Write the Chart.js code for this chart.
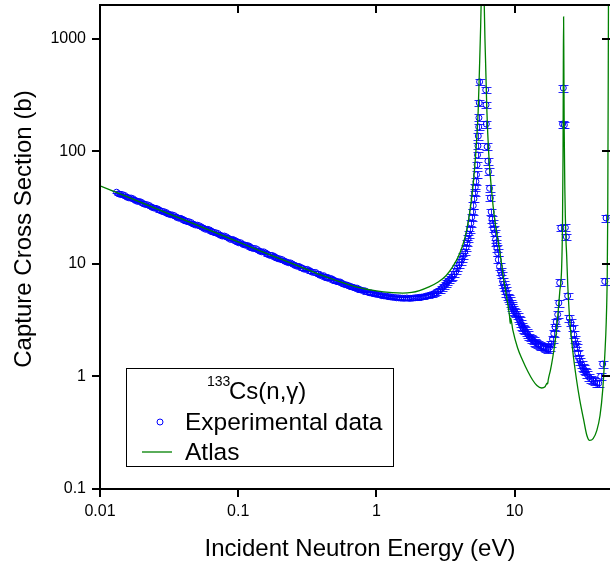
<!DOCTYPE html>
<html>
<head>
<meta charset="utf-8">
<script src="https://cdn.jsdelivr.net/npm/chart.js@4.4.1/dist/chart.umd.min.js"></script>
<style>
  html, body { margin: 0; padding: 0; background: #fff; }
  canvas { display: block; }
</style>
</head>
<body>
<canvas id="cs-chart" width="610" height="564"></canvas>
<script>
// tick labels
var xTickVals = [0.01, 0.1, 1, 10];
var xTickText = ['0.01', '0.1', '1', '10'];
var yTickVals = [0.1, 1, 10, 100, 1000];
var yTickText = ['0.1', '1', '10', '100', '1000'];

// Atlas evaluation (eV, barn)
var atlasE = [
  0.01, 0.015, 0.02, 0.03, 0.05, 0.07, 0.1, 0.15, 0.2, 0.3,
  0.4, 0.5, 0.7, 1.0, 1.3, 1.55, 1.8, 2.05, 2.4, 2.8,
  3.2, 3.56, 3.9, 4.2, 4.5, 4.72, 4.96, 5.13, 5.3, 5.45,
  5.57, 5.68, 5.78, 5.87, 5.95, 6.03, 6.1, 6.16, 6.3, 6.5,
  6.81, 7.2, 7.78, 8.3, 8.9, 9.2, 9.3, 9.36, 9.7, 10.5,
  11.4, 12.5, 13.5, 14.5, 15.7, 16.6, 17.2, 17.35, 17.5, 18.2,
  18.9, 19.8, 20.5, 21.2, 21.9, 22.2, 22.4, 22.52, 22.62, 22.72,
  22.85, 23.1, 23.5, 23.8, 24.2, 25.0, 26.3, 28.0, 29.6, 31.5,
  33.3, 34.9, 37.0, 39.3, 41.5, 43.4, 45.0, 46.0, 46.8, 47.2,
  47.6, 47.85
];
var atlasCs = [
  49.5, 40.4, 35.0, 28.6, 22.2, 18.8, 15.7, 12.8, 11.15, 9.15,
  7.95, 7.2, 6.3, 5.75, 5.55, 5.5, 5.58, 5.8, 6.25, 6.9,
  7.9, 9.4, 11.5, 14.5, 20, 28, 45, 70, 120, 230,
  550, 1300, 3500, 7000, 5000, 2000, 1000, 650, 230, 95,
  45, 24, 13.3, 7.6, 4.5, 3.4, 2.95, 3.3, 2.6, 1.8,
  1.4, 1.1, 0.93, 0.83, 0.79, 0.81, 0.87, 0.86, 0.93, 1.15,
  1.49, 2.2, 3.38, 5.6, 9.4, 22, 90, 600, 1570, 600,
  150, 45, 17, 12, 6.8, 3.3, 1.72, 0.95, 0.62, 0.42,
  0.3, 0.27, 0.28, 0.33, 0.45, 0.76, 1.6, 3.0, 8, 30,
  500, 5000
];

// experimental data (eV, barn, uncertainty in %)
var expE = [
  0.01318, 0.01413, 0.01514, 0.01622, 0.01738, 0.01862, 0.01995, 0.02138, 0.02291, 0.02455,
  0.02630, 0.02818, 0.03020, 0.03236, 0.03467, 0.03715, 0.03981, 0.04266, 0.04571, 0.04898,
  0.05248, 0.05623, 0.06026, 0.06457, 0.06918, 0.07413, 0.07943, 0.08511, 0.09120, 0.09772,
  0.1047, 0.1122, 0.1202, 0.1288, 0.1380, 0.1479, 0.1585, 0.1698, 0.1820, 0.1950,
  0.2089, 0.2239, 0.2399, 0.2570, 0.2754, 0.2951, 0.3162, 0.3388, 0.3631, 0.3890,
  0.4169, 0.4467, 0.4786, 0.5129, 0.5495, 0.5888, 0.6310, 0.6761, 0.7244, 0.7762,
  0.8318, 0.8913, 0.9550, 1.023, 1.096, 1.175, 1.259, 1.349, 1.445, 1.549,
  1.660, 1.778, 1.905, 2.042, 2.188, 2.344, 2.512, 2.692, 2.884, 3.090,
  3.24, 3.35, 3.45, 3.55, 3.65, 3.76, 3.86, 3.96, 4.06, 4.15,
  4.25, 4.35, 4.45, 4.53, 4.61, 4.68, 4.75, 4.82, 4.89, 4.96,
  5.02, 5.08, 5.13, 5.19, 5.25, 5.30, 5.35, 5.39, 5.43, 5.46,
  5.50, 5.52, 5.55, 5.58,
  6.18, 6.21, 6.24, 6.33, 6.41, 6.48, 6.59, 6.68, 6.77, 6.86,
  6.93, 7.05, 7.16, 7.28, 7.35, 7.45, 7.54, 7.62, 7.78, 7.92,
  8.05, 8.18, 8.32, 8.47, 8.60, 8.72, 8.90, 9.05, 9.20, 9.35,
  9.5, 9.65, 9.8, 9.95, 10.1, 10.3, 10.5, 10.7, 10.9, 11.1,
  11.3, 11.5, 11.7, 11.9, 12.2, 12.5, 12.8, 13.1, 13.4, 13.7,
  14.0, 14.4, 14.8, 15.2, 15.6, 16.0, 16.5, 17.0, 17.4, 17.9,
  18.4, 18.8, 19.2, 19.6, 20.0, 20.5, 20.9, 21.2, 21.6, 22.25,
  22.5, 22.9, 23.3, 23.7, 24.2, 24.9, 25.6, 26.3, 26.8, 27.2,
  27.7, 28.1, 28.6, 29.1, 29.8, 30.6, 31.1, 31.6, 32.2, 32.7,
  33.5, 34.4, 35.5, 36.7, 38.0, 39.3, 40.6, 42.0, 43.4, 44.9,
  45.9,
  0.01364, 0.01462, 0.01567, 0.01679, 0.01799, 0.01927, 0.02065, 0.02213, 0.02371, 0.02541,
  0.02722, 0.02917, 0.03126, 0.03350, 0.03589, 0.03845, 0.04121, 0.04416, 0.04731, 0.05070,
  0.05432, 0.05820, 0.06237, 0.06683, 0.07161, 0.07673, 0.08222, 0.08810, 0.09440, 0.1011,
  0.1084, 0.1161, 0.1244, 0.1333, 0.1428, 0.1531, 0.1641, 0.1758, 0.1884, 0.2018,
  0.2162, 0.2318, 0.2483, 0.2660, 0.2851, 0.3055, 0.3273, 0.3507, 0.3758, 0.4027,
  0.4315, 0.4624, 0.4954, 0.5309, 0.5688, 0.6095, 0.6531, 0.6998, 0.7498, 0.8035,
  0.8610, 0.9226, 0.9885, 1.059, 1.135, 1.216, 1.303, 1.396, 1.496, 1.603,
  1.718, 1.841, 1.972, 2.114, 2.265, 2.426, 2.600, 2.786, 2.985, 3.198
];
var expCs = [
  43.4, 41.3, 40.5, 38.6, 37.9, 36.0, 35.3, 33.7, 32.9, 31.4,
  30.7, 29.3, 28.6, 27.4, 26.8, 25.5, 24.9, 23.8, 23.3, 22.2,
  21.8, 20.7, 20.3, 19.4, 18.9, 18.0, 17.7, 16.9, 16.5, 15.7,
  15.4, 14.7, 14.4, 13.7, 13.4, 12.8, 12.5, 11.9, 11.7, 11.1,
  10.9, 10.4, 10.2, 9.7, 9.5, 9.05, 8.95, 8.5, 8.4, 7.95,
  7.85, 7.45, 7.35, 7.0, 6.9, 6.55, 6.4, 6.2, 6.1, 5.85,
  5.75, 5.55, 5.45, 5.35, 5.22, 5.18, 5.1, 5.04, 5.0, 4.96,
  4.98, 4.95, 5.0, 5.05, 5.1, 5.22, 5.35, 5.55, 5.85, 6.35,
  6.9, 7.15, 7.4, 7.7, 8.1, 8.6, 9.2, 9.8, 10.4, 11.0,
  11.8, 12.8, 14.0, 15.4, 16.8, 18.4, 20.4, 23, 26, 29,
  33, 38, 43, 48, 54, 62, 76, 93, 112, 137,
  165, 199, 270, 415,
  352, 259, 175, 110, 82, 66, 47, 38.6, 29, 25,
  23, 20.5, 18.9, 16.5, 15.4, 13.8, 12.6, 10.9, 9.5, 8.6,
  8.0, 7.0, 6.6, 6.2, 5.8, 5.5, 5.1, 4.9, 4.75, 4.5,
  4.3, 4.1, 3.95, 3.8, 3.7, 3.6, 3.45, 3.25, 3.15, 2.95,
  2.8, 2.7, 2.62, 2.55, 2.45, 2.35, 2.25, 2.2, 2.12, 2.08,
  2.02, 1.98, 1.94, 1.9, 1.86, 1.84, 1.82, 1.78, 1.74, 1.82,
  1.95, 2.15, 2.4, 2.75, 3.05, 3.55, 4.5, 6.8, 20.9, 175,
  366, 172, 21, 17.4, 5.2, 3.3, 3.0, 2.7, 2.35, 2.12,
  1.95, 1.8, 1.62, 1.46, 1.37, 1.27, 1.2, 1.17, 1.12, 1.1,
  1.04, 0.99, 0.95, 0.93, 0.9, 0.87, 0.87, 1.0, 1.29, 7.0,
  25.6,
  42.0, 41.2, 39.2, 38.5, 36.7, 35.9, 34.3, 33.5, 31.9, 31.2,
  29.8, 29.1, 27.8, 27.2, 25.9, 25.4, 24.2, 23.7, 22.6, 22.1,
  21.3, 20.3, 20.0, 19.0, 18.6, 17.7, 17.4, 16.5, 16.2, 15.4,
  14.9, 14.6, 13.9, 13.7, 13.0, 12.8, 12.1, 11.9, 11.3, 11.05,
  10.6, 10.25, 9.95, 9.55, 9.3, 8.95, 8.75, 8.4, 8.15, 7.85,
  7.6, 7.45, 7.15, 6.95, 6.7, 6.5, 6.3, 6.12, 5.95, 5.8,
  5.62, 5.5, 5.38, 5.3, 5.2, 5.12, 5.06, 5.0, 4.97, 4.95,
  4.94, 4.97, 5.02, 5.07, 5.16, 5.28, 5.45, 5.7, 6.1, 6.6
];
var expErrPct = [
  2, 2, 2, 2, 2, 2, 2, 2, 2, 2,
  2, 2, 2, 2, 2, 2, 2, 2, 2, 2,
  2, 2, 2, 2, 2, 2, 2, 2, 2, 2,
  2, 2, 2, 2, 2, 2, 2, 2, 2, 2,
  2, 2, 2, 2, 2, 2, 2, 2, 2, 2,
  3, 3, 3, 3, 3, 3, 3, 3, 3, 3,
  3, 3, 3, 3, 3, 3, 3, 3, 3, 3,
  4, 4, 4, 4, 4, 4, 4, 4, 5, 5,
  5, 5, 5, 6, 6, 6, 6, 6, 6, 6,
  6, 6, 6, 7, 7, 7, 7, 7, 7, 7,
  7, 7, 7, 7, 7, 7, 7, 7, 7, 7,
  7, 7, 7, 7,
  7, 7, 7, 7, 7, 7, 7, 7, 7, 7,
  7, 7, 7, 7, 7, 7, 7, 7, 7, 7,
  7, 7, 7, 7, 7, 7, 7, 7, 7, 7,
  7, 7, 7, 7, 7, 7, 7, 7, 7, 7,
  7, 7, 7, 7, 7, 7, 7, 7, 7, 7,
  7, 7, 7, 7, 7, 7, 7, 7, 7, 7,
  7, 7, 7, 7, 7, 7, 7, 7, 7, 7,
  7, 7, 7, 7, 7, 7, 7, 7, 7, 7,
  7, 7, 7, 7, 7, 7, 7, 7, 7, 7,
  7, 7, 7, 7, 7, 7, 7, 7, 7, 7,
  7,
  2, 2, 2, 2, 2, 2, 2, 2, 2, 2,
  2, 2, 2, 2, 2, 2, 2, 2, 2, 2,
  2, 2, 2, 2, 2, 2, 2, 2, 2, 2,
  2, 2, 2, 2, 2, 2, 2, 2, 2, 2,
  2, 2, 2, 2, 2, 2, 2, 2, 2, 2,
  3, 3, 3, 3, 3, 3, 3, 3, 3, 3,
  3, 3, 3, 3, 3, 3, 3, 3, 3, 3,
  4, 4, 4, 4, 4, 4, 4, 4, 5, 5
];

var FONT = '"Liberation Sans", Arial, sans-serif';
Chart.defaults.font.family = FONT;
Chart.defaults.color = '#000';

// label only the decades, other ticks get no label at all
function tickText(vals, texts) {
  return function (value) {
    for (var i = 0; i < vals.length; i++) {
      if (Math.abs(value / vals[i] - 1) < 1e-6) return texts[i];
    }
    return null;
  };
}

function isDecade(v) {
  var l = Math.log10(v);
  return Math.abs(l - Math.round(l)) < 1e-6;
}
function isWhole(v) {
  var m = v / Math.pow(10, Math.floor(Math.log10(v) + 1e-9));
  return Math.abs(m - Math.round(m)) < 1e-6;
}

// error bars under the markers
var errorBars = {
  id: 'errorBars',
  beforeDatasetsDraw: function (chart) {
    var ctx = chart.ctx, a = chart.chartArea, x = chart.scales.x, y = chart.scales.y;
    ctx.save();
    ctx.beginPath();
    ctx.rect(a.left, a.top, a.right - a.left, a.bottom - a.top);
    ctx.clip();
    ctx.strokeStyle = 'rgba(0,0,255,0.85)';
    ctx.lineWidth = 1;
    ctx.beginPath();
    for (var i = 0; i < expE.length; i++) {
      var d = expCs[i] * expErrPct[i] / 100;
      var px = Math.round(x.getPixelForValue(expE[i])) + 0.5;
      var hi = Math.round(y.getPixelForValue(expCs[i] + d)) + 0.5;
      var lo = Math.round(y.getPixelForValue(expCs[i] - d)) + 0.5;
      ctx.moveTo(px, hi); ctx.lineTo(px, lo);
      ctx.moveTo(px - 5, hi); ctx.lineTo(px + 5, hi);
      ctx.moveTo(px - 5, lo); ctx.lineTo(px + 5, lo);
    }
    ctx.stroke();
    ctx.restore();
  }
};

// axis frame, tick marks, titles and legend box
var frame = {
  id: 'frame',
  afterDraw: function (chart) {
    var ctx = chart.ctx, a = chart.chartArea, x = chart.scales.x, y = chart.scales.y;
    ctx.save();
    ctx.strokeStyle = '#000';
    ctx.lineWidth = 2;
    ctx.beginPath();
    ctx.moveTo(a.left, a.bottom); ctx.lineTo(a.left, a.top);
    ctx.lineTo(a.right + 2, a.top);
    ctx.moveTo(a.left - 1, a.bottom); ctx.lineTo(a.right + 2, a.bottom);
    ctx.moveTo(a.right + 1, a.top); ctx.lineTo(a.right + 1, a.bottom);
    ctx.stroke();

    x.ticks.forEach(function (t) {
      if (!isWhole(t.value) || t.value >= x.max) return;
      var major = isDecade(t.value);
      var len = major ? 8 : 5;
      var px = Math.round(x.getPixelForValue(t.value));
      ctx.lineWidth = major ? 2 : 1.5;
      ctx.beginPath();
      ctx.moveTo(px, a.bottom); ctx.lineTo(px, a.bottom + len);
      ctx.moveTo(px, a.top); ctx.lineTo(px, a.top + len);
      ctx.stroke();
    });
    y.ticks.forEach(function (t) {
      if (!isWhole(t.value) || t.value >= y.max) return;
      var major = isDecade(t.value);
      var len = major ? 8 : 5;
      var py = Math.round(y.getPixelForValue(t.value));
      ctx.lineWidth = major ? 2 : 1.5;
      ctx.beginPath();
      ctx.moveTo(a.left - len, py); ctx.lineTo(a.left, py);
      ctx.moveTo(a.right - len, py); ctx.lineTo(a.right, py);
      ctx.stroke();
    });

    // axis titles
    ctx.fillStyle = '#000';
    ctx.font = '24px ' + FONT;
    ctx.textAlign = 'center';
    ctx.textBaseline = 'alphabetic';
    ctx.fillText('Incident Neutron Energy (eV)', 360, 556);
    ctx.save();
    ctx.translate(31, 229);
    ctx.rotate(-Math.PI / 2);
    ctx.fillText('Capture Cross Section (b)', 0, 0);
    ctx.restore();

    // legend
    ctx.fillStyle = '#fff';
    ctx.fillRect(126, 368, 267, 98);
    ctx.lineWidth = 1;
    ctx.strokeStyle = '#000';
    ctx.strokeRect(126.5, 368.5, 267, 98);
    ctx.fillStyle = '#000';
    ctx.textAlign = 'left';
    ctx.font = '14px ' + FONT;
    ctx.fillText('133', 207, 386);
    ctx.font = '24px ' + FONT;
    ctx.fillText('Cs(n,\u03b3)', 229, 399);
    ctx.font = '24.5px ' + FONT;
    ctx.fillText('Experimental data', 185, 430);
    ctx.fillText('Atlas', 185, 460);
    ctx.strokeStyle = '#0000ff';
    ctx.beginPath();
    ctx.arc(160, 422, 3, 0, Math.PI * 2);
    ctx.stroke();
    ctx.strokeStyle = '#008000';
    ctx.lineWidth = 1.3;
    ctx.beginPath();
    ctx.moveTo(142, 452); ctx.lineTo(172, 452);
    ctx.stroke();
    ctx.restore();
  }
};

var atlasPoints = atlasE.map(function (e, i) { return {x: e, y: atlasCs[i]}; });
var expPoints = expE.map(function (e, i) { return {x: e, y: expCs[i]}; });

var ctx = document.getElementById('cs-chart').getContext('2d');
var myChart = new Chart(ctx, {
  type: 'scatter',
  data: {
    datasets: [{
      label: 'Atlas',
      data: atlasPoints,
      showLine: true,
      borderColor: '#008000',
      borderWidth: 1.3,
      pointRadius: 0,
      cubicInterpolationMode: 'monotone',
      fill: false
    },
    {
      label: 'Experimental data',
      data: expPoints,
      pointRadius: 3,
      pointBorderWidth: 1,
      pointBorderColor: '#0000ff',
      pointBackgroundColor: 'rgba(0,0,0,0)'
    }]
  },
  options: {
    responsive: false,
    animation: false,
    layout: { autoPadding: false, padding: { top: 5, left: 0, right: 0, bottom: 0 } },
    plugins: { legend: { display: false }, tooltip: { enabled: false } },
    scales: {
      x: {
        type: 'logarithmic',
        min: 0.01,
        max: 49,
        grid: { display: false, drawTicks: false },
        border: { display: false },
        ticks: {
          autoSkip: false, maxRotation: 0, padding: 13,
          font: { size: 16 }, color: '#000',
          callback: tickText(xTickVals, xTickText)
        },
        afterFit: function (s) {
          s.height = 75;
          s.paddingLeft = 0; s.paddingRight = 0;
        }
      },
      y: {
        type: 'logarithmic',
        min: 0.1,
        max: 2000,
        grid: { display: false, drawTicks: false },
        border: { display: false },
        ticks: {
          autoSkip: false, padding: 14,
          font: { size: 16 }, color: '#000',
          callback: tickText(yTickVals, yTickText)
        },
        afterFit: function (s) {
          s.width = 100;
          s.paddingTop = 0; s.paddingBottom = 0;
        }
      }
    }
  },
  plugins: [errorBars, frame]
});
</script>
</body>
</html>
